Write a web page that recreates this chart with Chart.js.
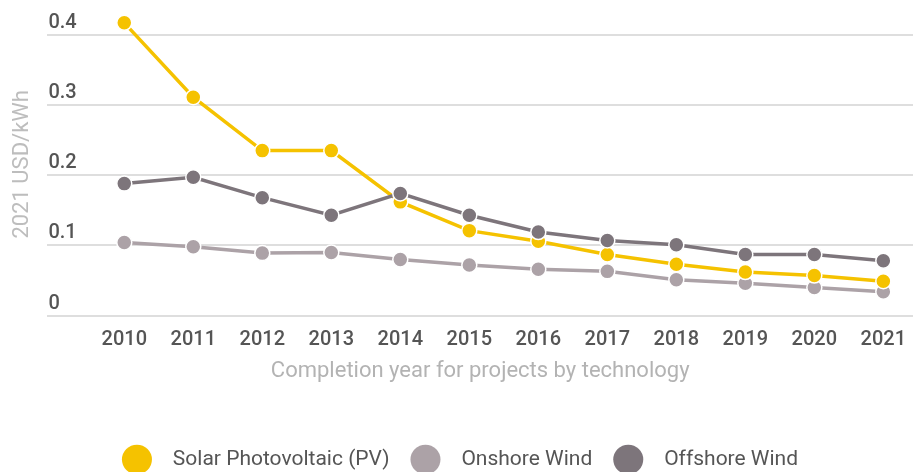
<!DOCTYPE html>
<html>
<head>
<meta charset="utf-8">
<script src="https://cdn.jsdelivr.net/npm/chart.js@4/dist/chart.umd.min.js"></script>
<style>
  html, body { margin: 0; padding: 0; background: #ffffff; }
  #wrap { width: 922px; height: 472px; position: relative; }
</style>
</head>
<body>
<div id="wrap"><canvas id="c" width="922" height="472"></canvas></div>
<script>
const years = [2010, 2011, 2012, 2013, 2014, 2015, 2016, 2017, 2018, 2019, 2020, 2021];
const solarPV = [0.417, 0.311, 0.235, 0.235, 0.162, 0.121, 0.106, 0.087, 0.073, 0.062, 0.057, 0.049];
const onshoreWind = [0.104, 0.098, 0.089, 0.090, 0.080, 0.072, 0.066, 0.063, 0.051, 0.046, 0.040, 0.034];
const offshoreWind = [0.188, 0.197, 0.168, 0.143, 0.174, 0.143, 0.119, 0.107, 0.101, 0.087, 0.087, 0.078];
const yTicks = [0, 0.1, 0.2, 0.3, 0.4];
const seriesNames = ['Solar Photovoltaic (PV)', 'Onshore Wind', 'Offshore Wind'];

const COLORS = ['#F5C200', '#ACA2A7', '#7D757B'];

function pts(vals) { return years.map((y, i) => ({ x: y, y: vals[i] })); }

function ds(label, vals, color, order) {
  return {
    label: label,
    data: pts(vals),
    borderColor: color,
    backgroundColor: color,
    borderWidth: 3.5,
    pointRadius: 7.5,
    pointHoverRadius: 7.5,
    pointBorderColor: '#ffffff',
    pointBorderWidth: 1.5,
    pointBackgroundColor: color,
    tension: 0,
    order: order,
    clip: false
  };
}

new Chart(document.getElementById('c'), {
  type: 'line',
  data: {
    datasets: [
      ds(seriesNames[0], solarPV, COLORS[0], 1),
      ds(seriesNames[1], onshoreWind, COLORS[1], 2),
      ds(seriesNames[2], offshoreWind, COLORS[2], 0)
    ]
  },
  options: {
    responsive: false,
    animation: false,
    layout: { padding: { top: 7, right: 2, left: 0, bottom: -8 } },
    plugins: {
      tooltip: { enabled: false },
      legend: {
        position: 'bottom',
        labels: {
          usePointStyle: true,
          pointStyle: 'circle',
          pointStyleWidth: 30,
          boxHeight: 21,
          color: '#555555',
          font: { family: 'Roboto', size: 21 },
          padding: 21,
          sort: (a, b) => a.datasetIndex - b.datasetIndex,
          generateLabels: (chart) => {
            const items = Chart.defaults.plugins.legend.labels.generateLabels(chart);
            items.forEach(it => { it.text = '  ' + it.text; it.lineWidth = 0; it.strokeStyle = 'rgba(0,0,0,0)'; });
            return items;
          }
        }
      }
    },
    scales: {
      x: {
        type: 'linear',
        min: 2008.886,
        max: 2021.43,
        afterBuildTicks: (axis) => { axis.ticks = years.map(v => ({ value: v })); },
        grid: { display: false, drawTicks: false },
        border: { display: false },
        ticks: {
          autoSkip: false,
          maxRotation: 0,
          padding: 12,
          color: '#555555',
          font: { family: 'Roboto', size: 20, weight: '500' },
          callback: (v) => String(v)
        },
        title: {
          display: true,
          text: 'Completion year for projects by technology',
          color: '#b3b3b3',
          font: { family: 'Roboto', size: 22 },
          padding: { top: -5, bottom: 43 }
        }
      },
      y: {
        min: 0,
        max: 0.431,
        afterBuildTicks: (axis) => { axis.ticks = yTicks.map(v => ({ value: v })); },
        grid: { color: '#dedede', lineWidth: 2, drawTicks: false },
        border: { display: false },
        ticks: {
          mirror: true,
          padding: 1,
          labelOffset: -12,
          color: '#555555',
          font: { family: 'Roboto', size: 20, weight: '500' },
          callback: (v) => (v === 0 ? '0' : v.toFixed(1))
        },
        title: {
          display: true,
          text: '2021 USD/kWh',
          color: '#bdbdbd',
          font: { family: 'Roboto', size: 22 },
          padding: { top: 9, bottom: 10 }
        }
      }
    }
  }
});
</script>
</body>
</html>
